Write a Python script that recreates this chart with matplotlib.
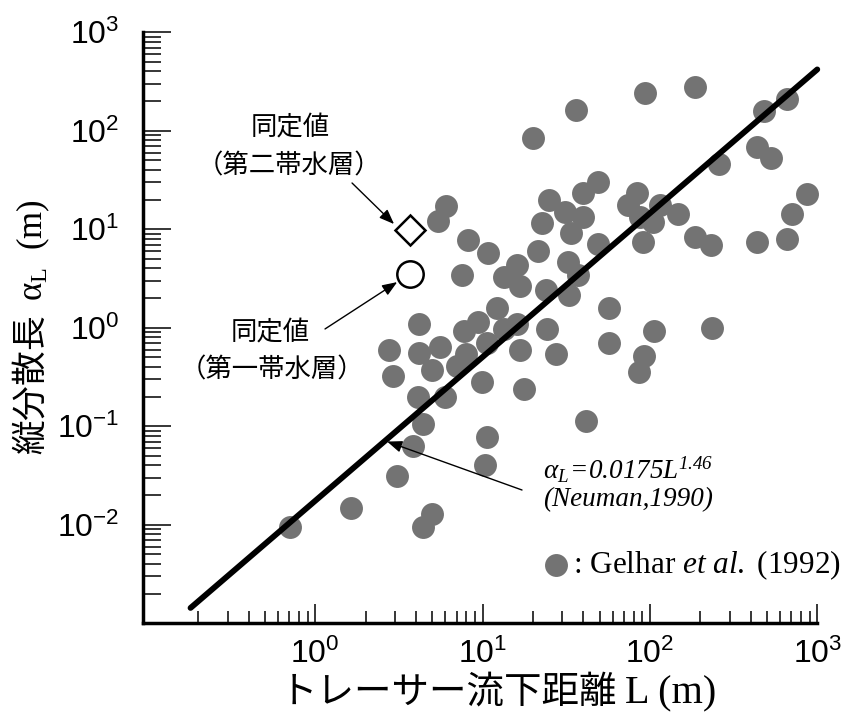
import numpy as np
import matplotlib
matplotlib.use("Agg")
import matplotlib.pyplot as plt
from matplotlib.ticker import LogLocator, NullFormatter

plt.rcParams["font.family"] = ["Liberation Sans", "Noto Sans CJK JP", "DejaVu Sans"]
plt.rcParams["mathtext.fontset"] = "custom"
plt.rcParams["mathtext.rm"] = "Liberation Serif"
plt.rcParams["mathtext.it"] = "Liberation Serif:italic"
plt.rcParams["mathtext.bf"] = "Liberation Serif:bold"

JP = ["Noto Sans CJK JP", "DejaVu Sans"]
SERIF = ["Liberation Serif", "DejaVu Serif"]

# Gelhar et al. (1992) compilation: travel distance L (m) vs longitudinal dispersivity (m)
gelhar_L = [36.2, 20.1, 93.6, 186, 481, 660, 437, 530, 259, 869, 706, 660, 437,
            49.0, 39.9, 25.0, 31.1, 39.9, 74.1, 83.9, 115, 147, 87.4, 105, 91.1,
            186, 232, 6.06, 5.43, 22.7, 33.8, 49.0, 8.20, 10.8, 21.5, 32.5, 16.1,
            37.3, 7.55, 13.5, 16.8, 24.0, 32.9, 56.6, 12.2, 9.41, 7.76, 16.1, 24.3,
            57.0, 106, 92.3, 86.1, 235, 4.18, 2.77, 4.18, 5.58, 2.92, 5.00, 4.12,
            5.98, 4.42, 3.85, 3.09, 1.64, 0.709, 5.00, 4.42, 16.8, 27.5, 9.95, 17.7,
            7.05, 7.98, 10.7, 13.5, 41.6, 10.7, 10.4]
gelhar_aL = [162, 84.3, 241, 278, 158, 210, 68.4, 52.9, 45.9, 22.8, 14.3, 7.96, 7.42,
             30.2, 23.3, 19.8, 15.0, 13.3, 17.6, 23.3, 17.6, 14.3, 13.3, 11.8, 7.42,
             8.33, 6.91, 17.2, 12.1, 11.6, 9.15, 7.08, 7.77, 5.73, 6.01, 4.68, 4.34,
             3.43, 3.43, 3.27, 2.65, 2.41, 2.15, 1.59, 1.59, 1.14, 0.927, 1.09, 0.97,
             0.698, 0.927, 0.516, 0.356, 0.99, 1.09, 0.594, 0.555, 0.638, 0.323, 0.373,
             0.198, 0.198, 0.105, 0.063, 0.0312, 0.0148, 0.0095, 0.0128, 0.0095,
             0.594, 0.541, 0.281, 0.239, 0.409, 0.541, 0.698, 0.97, 0.113, 0.0777,
             0.0404]

# identified values for the two aquifers
id_L = 3.7
id_aL_second = 9.8
id_aL_first = 3.5

# Neuman (1990) regression
neuman_coef = 0.0175
neuman_exp = 1.46
neuman_L_range = [0.18, 1000]

fig = plt.figure(figsize=(8.5, 7.16), dpi=100)
ax = fig.add_axes([0.1686, 0.1295, 0.7929, 0.8254])
ax.set_xscale("log")
ax.set_yscale("log")
ax.set_xlim(0.094, 1000)
ax.set_ylim(1e-3, 1e3)

for side in ("top", "right"):
    ax.spines[side].set_visible(False)
for side in ("left", "bottom"):
    ax.spines[side].set_linewidth(2.5)

ax.xaxis.set_major_locator(LogLocator(base=10, numticks=10))
ax.xaxis.set_minor_locator(LogLocator(base=10, subs=np.arange(2, 10), numticks=10))
ax.yaxis.set_major_locator(LogLocator(base=10, numticks=10))
ax.yaxis.set_minor_locator(LogLocator(base=10, subs=np.arange(2, 10), numticks=10))
ax.xaxis.set_minor_formatter(NullFormatter())
ax.yaxis.set_minor_formatter(NullFormatter())
ax.set_xticks([1, 10, 100, 1000])
ax.set_yticks([1e-2, 1e-1, 1, 10, 100, 1000])

ax.tick_params(axis="y", which="major", direction="in", length=20, width=1.1,
               labelsize=23, pad=17)
ax.tick_params(axis="y", which="minor", direction="in", length=13, width=1.1)
ax.tick_params(axis="x", which="major", direction="in", length=14, width=1.1,
               labelsize=23, pad=11)
ax.tick_params(axis="x", which="minor", direction="in", length=9, width=1.1)

# Gelhar data
ax.plot(gelhar_L, gelhar_aL, "o", color="#737373", markersize=16.5,
        markeredgewidth=0, zorder=2, clip_on=False)

# Neuman line
Lline = np.array(neuman_L_range)
ax.plot(Lline, neuman_coef * Lline ** neuman_exp, color="black", lw=4.2,
        solid_capstyle="round", zorder=3, clip_on=False)

# identified values
ax.plot([id_L], [id_aL_second], "D", markersize=15, markerfacecolor="white",
        markeredgecolor="black", markeredgewidth=1.8, zorder=4)
ax.plot([id_L], [id_aL_first], "o", markersize=19, markerfacecolor="white",
        markeredgecolor="black", markeredgewidth=1.8, zorder=4)

arrow = dict(arrowstyle="-|>,head_length=0.9,head_width=0.35", color="black",
             lw=1.0, shrinkA=0, shrinkB=0)

ax.text(0.2176, 0.838, "同定値", transform=ax.transAxes, ha="center",
        va="center", fontsize=19, family=JP)
ax.text(0.2162, 0.7745, "（第二帯水層）", transform=ax.transAxes, ha="center",
        va="center", fontsize=19, family=JP)
ax.annotate("", xy=(2.96, 11.3), xycoords="data", xytext=(0.3097, 0.745),
            textcoords="axes fraction", arrowprops=arrow)

ax.text(0.189, 0.491, "同定値", transform=ax.transAxes, ha="center",
        va="center", fontsize=19, family=JP)
ax.text(0.191, 0.4286, "（第一帯水層）", transform=ax.transAxes, ha="center",
        va="center", fontsize=19, family=JP)
ax.annotate("", xy=(3.09, 2.91), xycoords="data", xytext=(0.2696, 0.498),
            textcoords="axes fraction", arrowprops=arrow)

# regression label, whole formula in serif italic (digits included)
ax.text(0.593, 0.2594, r"$\mathdefault{\alpha_L\!=\!0.0175L^{1.46}}$",
        transform=ax.transAxes, ha="left", va="center", fontsize=19.5,
        family=SERIF, style="italic")
ax.text(0.593, 0.2086, "(Neuman,1990)", transform=ax.transAxes, ha="left",
        va="center", fontsize=19.5, family=SERIF, style="italic")
ax.annotate("", xy=(2.69, 0.07), xycoords="data", xytext=(0.5619, 0.2255),
            textcoords="axes fraction", arrowprops=arrow)

# legend entry
ax.plot([0.612], [0.0987], "o", color="#737373", markersize=16.5,
        markeredgewidth=0, transform=ax.transAxes, clip_on=False)
ax.text(0.637, 0.0987, r": Gelhar $\mathit{et\ al.}$ (1992)", transform=ax.transAxes,
        ha="left", va="center", fontsize=22.5, family=SERIF)

# x label: Japanese part in gothic, "L (m)" in serif
ax.text(0.7028, -0.1349, "トレーサー流下距離", transform=ax.transAxes, ha="right",
        va="baseline", fontsize=27, family=JP)
ax.text(0.7147, -0.1349, "L (m)", transform=ax.transAxes, ha="left",
        va="baseline", fontsize=29, family=SERIF)

ax.set_ylabel(r"縦分散長  $\mathrm{\alpha_{L}}\ \ \mathrm{(m)}$", fontsize=25, family=JP)
ax.yaxis.set_label_coords(-0.136, 0.501)

fig.savefig("out.png", dpi=100)
